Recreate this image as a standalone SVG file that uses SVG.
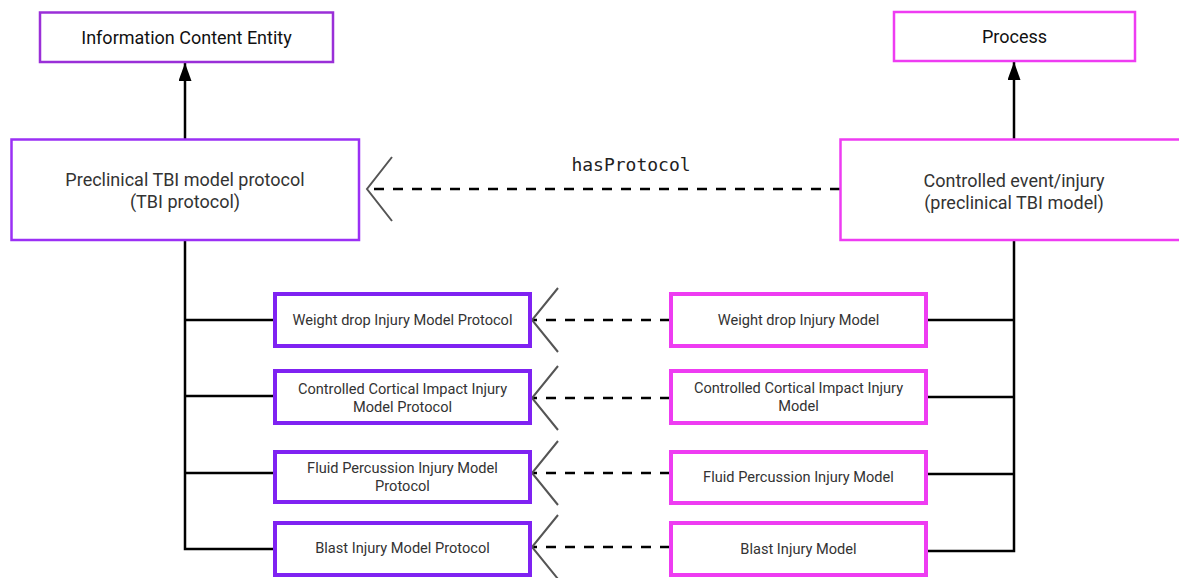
<svg xmlns="http://www.w3.org/2000/svg" width="1179" height="578" viewBox="0 0 1179 578">
  <style>
    .box { fill: #ffffff; }
    .ice { stroke: #9a2fd8; stroke-width: 2.5; }
    .proto { stroke: #9b30f5; stroke-width: 2.5; }
    .proto-sub { stroke: #7f22f2; stroke-width: 4; }
    .proc { stroke: #ee3cf2; stroke-width: 2.5; }
    .proc-sub { stroke: #ee3cf2; stroke-width: 4; }
    .label { font-family: Roboto, "Liberation Sans", sans-serif; fill: #333333; text-anchor: middle; }
    .big { font-size: 18px; }
    .top { font-size: 18px; fill: #111111; }
    .small { font-size: 14.6px; }
    .edge { font-family: "DejaVu Sans Mono", "Liberation Mono", monospace; font-size: 18px; fill: #222222; text-anchor: middle; }
    .solid { stroke: #000000; stroke-width: 2.5; fill: none; }
    .dash { stroke: #000000; stroke-width: 2.5; fill: none; stroke-dasharray: 10 9; }
    .head { stroke: #555555; stroke-width: 2; fill: none; }
  </style>
  <defs>
    <marker id="isA" viewBox="0 0 18 13" refX="18" refY="6.5" markerWidth="18" markerHeight="13" markerUnits="userSpaceOnUse" orient="auto">
      <path d="M0,0 L18,6.5 L0,13 z" fill="#000000"/>
    </marker>
  </defs>

  <rect width="1179" height="578" fill="#ffffff"/>

  <g id="connectors">
    <!-- subclass arrows -->
    <line class="solid" x1="185" y1="139" x2="185" y2="63" marker-end="url(#isA)"/>
    <line class="solid" x1="1014" y1="139" x2="1014" y2="62" marker-end="url(#isA)"/>

    <!-- left tree -->
    <polyline class="solid" points="185,240 185,549 274,549"/>
    <line class="solid" x1="185" y1="320" x2="274" y2="320"/>
    <line class="solid" x1="185" y1="396" x2="274" y2="396"/>
    <line class="solid" x1="185" y1="473" x2="274" y2="473"/>

    <!-- right tree -->
    <polyline class="solid" points="1014,240 1014,551 927,551"/>
    <line class="solid" x1="927" y1="320" x2="1014" y2="320"/>
    <line class="solid" x1="927" y1="397" x2="1014" y2="397"/>
    <line class="solid" x1="927" y1="474" x2="1014" y2="474"/>

    <!-- hasProtocol -->
    <line class="dash" x1="840" y1="189" x2="368" y2="189"/>
    <polyline class="head" points="392,157 367,189 392,221"/>
    <text class="edge" x="631" y="171">hasProtocol</text>

    <line class="dash" x1="670" y1="320" x2="533" y2="320"/>
    <polyline class="head" points="558,288 532,320 558,352"/>
    <line class="dash" x1="670" y1="398" x2="533" y2="398"/>
    <polyline class="head" points="558,366 532,398 558,430"/>
    <line class="dash" x1="670" y1="473" x2="533" y2="473"/>
    <polyline class="head" points="558,441 532,473 558,505"/>
    <line class="dash" x1="670" y1="547" x2="533" y2="547"/>
    <polyline class="head" points="558,515 532,547 558,579"/>
  </g>

  <g id="information-content-entity">
    <rect class="box ice" x="40" y="12.5" width="293" height="49.5"/>
    <text class="label top" x="186.5" y="43.5">Information Content Entity</text>
  </g>

  <g id="process">
    <rect class="box proc" x="894" y="12" width="241" height="49"/>
    <text class="label top" x="1014.5" y="42.5">Process</text>
  </g>

  <g id="tbi-protocol">
    <rect class="box proto" x="11.5" y="139.5" width="347.5" height="100.5"/>
    <text class="label big" x="185" y="185.5">Preclinical TBI model protocol</text>
    <text class="label big" x="185" y="207.5">(TBI protocol)</text>
  </g>

  <g id="tbi-model">
    <rect class="box proc" x="840.5" y="139.5" width="348" height="100.5"/>
    <text class="label big" x="1014" y="186.5">Controlled event/injury</text>
    <text class="label big" x="1014" y="208.5">(preclinical TBI model)</text>
  </g>

  <g id="weight-drop-protocol">
    <rect class="box proto-sub" x="275" y="294" width="255" height="52"/>
    <text class="label small" x="402.5" y="325">Weight drop Injury Model Protocol</text>
  </g>
  <g id="cci-protocol">
    <rect class="box proto-sub" x="275" y="371" width="255" height="52"/>
    <text class="label small" x="402.5" y="394">Controlled Cortical Impact Injury</text>
    <text class="label small" x="402.5" y="412">Model Protocol</text>
  </g>
  <g id="fluid-percussion-protocol">
    <rect class="box proto-sub" x="275" y="452" width="255" height="50"/>
    <text class="label small" x="402.5" y="473">Fluid Percussion Injury Model</text>
    <text class="label small" x="402.5" y="491">Protocol</text>
  </g>
  <g id="blast-protocol">
    <rect class="box proto-sub" x="275" y="523" width="255" height="52"/>
    <text class="label small" x="402.5" y="553">Blast Injury Model Protocol</text>
  </g>

  <g id="weight-drop-model">
    <rect class="box proc-sub" x="671" y="294" width="255" height="52"/>
    <text class="label small" x="798.5" y="325">Weight drop Injury Model</text>
  </g>
  <g id="cci-model">
    <rect class="box proc-sub" x="671" y="371" width="255" height="52"/>
    <text class="label small" x="798.5" y="393">Controlled Cortical Impact Injury</text>
    <text class="label small" x="798.5" y="411">Model</text>
  </g>
  <g id="fluid-percussion-model">
    <rect class="box proc-sub" x="671" y="452" width="255" height="51"/>
    <text class="label small" x="798.5" y="482">Fluid Percussion Injury Model</text>
  </g>
  <g id="blast-model">
    <rect class="box proc-sub" x="671" y="523" width="255" height="52"/>
    <text class="label small" x="798.5" y="554">Blast Injury Model</text>
  </g>
</svg>
